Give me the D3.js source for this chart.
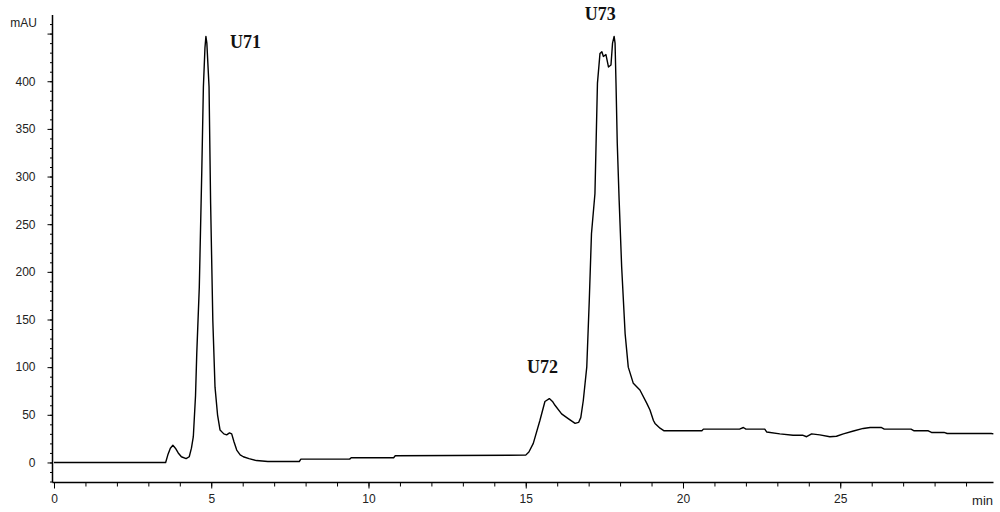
<!DOCTYPE html>
<html>
<head>
<meta charset="utf-8">
<script src="https://cdn.jsdelivr.net/npm/d3@7"></script>
<style>
html,body{margin:0;padding:0;background:#fff;}
svg{display:block;}
</style>
</head>
<body>
<svg id="chart" width="1000" height="512"></svg>
<script>
// Retention time (min) and absorbance (mAU)
const times = [0,3.55,3.62,3.7,3.78,3.86,3.95,4.05,4.2,4.3,4.37,4.43,4.5,4.54,4.62,4.70,4.75,4.80,4.83,4.86,4.93,4.98,5.05,5.12,5.2,5.28,5.4,5.49,5.58,5.65,5.72,5.81,5.92,6.02,6.2,6.44,6.8,7.8,7.85,9.4,9.45,10.8,10.85,15.0,15.1,15.24,15.45,15.61,15.75,15.85,15.93,16.14,16.35,16.57,16.68,16.75,16.83,16.94,17.02,17.09,17.20,17.28,17.36,17.42,17.47,17.55,17.63,17.71,17.76,17.81,17.84,17.87,17.91,17.97,18.05,18.16,18.26,18.42,18.63,18.85,18.95,19.06,19.11,19.27,19.4,20.6,20.65,21.8,21.92,22.0,22.6,22.66,23.08,23.5,23.8,23.93,24.09,24.35,24.67,24.88,25.1,25.42,25.73,25.95,26.3,26.4,27.25,27.35,27.8,27.9,28.3,28.4,29.8,29.87];
const mAU   = [0,0,8,15,18,15,10,6,4,6,15,27,70,115,184,307,394,435,447,440,394,272,149,79,50,34,30,29,31,30,22,13,8,6,4,2,1,1,3.5,3.5,5,5,7,7.7,11,20,44,64,67,64,60,51,46,41,42,47,65,100,170,240,282,398,429,431,426,428,415,417,440,447,440,398,335,275,205,135,100,83,76,62,55,44,41,36,33.2,33.2,35,35,36.7,35,35,32,30,28.6,28.6,27,30,29,27,27.5,30,33,35.7,36.7,36.7,35,35,33.2,33.2,31.5,31.5,30.4,30.4,30];

const yTickValues = [0,50,100,150,200,250,300,350,400,450];
const yTickLabels = ["0","50","100","150","200","250","300","350","400",""];
const xTickValues = [0,5,10,15,20,25];
const xTickLabels = ["0","5","10","15","20","25"];

const peakNames = ["U71","U72","U73"];
const peakT     = [5.6,15.04,16.88];
const peakV     = [435,94,464.6];

const svg = d3.select("#chart");
const x = d3.scaleLinear().domain([0, 29.87]).range([54, 993.4]);
const y = d3.scaleLinear().domain([-20.5, 469.5]).range([482, 15]);

const axisX = 52.5, axisY = 482.5;

// Y axis
const gy = svg.append("g").attr("transform", `translate(${axisX},0)`);
gy.call(d3.axisLeft(y).tickValues(d3.range(-20, 470, 10)).tickSize(2.5).tickFormat(""))
  .call(g => g.select(".domain").remove());
gy.append("g").call(d3.axisLeft(y).tickValues(yTickValues).tickSize(5).tickPadding(12)
    .tickFormat((d,i) => yTickLabels[i]))
  .call(g => g.select(".domain").remove())
  .call(g => g.selectAll("text").attr("font-family","Liberation Sans, Arial, sans-serif").attr("font-size",12).attr("fill","#222"));
gy.append("line").attr("x1",0).attr("x2",0).attr("y1",15).attr("y2",axisY).attr("stroke","#000").attr("stroke-width",1.5);
gy.selectAll("line").attr("stroke","#000");
svg.append("text").attr("x",37).attr("y",27).attr("text-anchor","end")
  .attr("font-family","Liberation Sans, Arial, sans-serif").attr("font-size",12).attr("fill","#222").text("mAU");

// X axis
const gx = svg.append("g").attr("transform", `translate(0,${axisY})`);
gx.call(d3.axisBottom(x).tickValues(d3.range(0, 30, 1)).tickSize(4).tickFormat(""))
  .call(g => g.select(".domain").remove());
gx.append("g").call(d3.axisBottom(x).tickValues(xTickValues).tickSize(6).tickPadding(6)
    .tickFormat((d,i) => xTickLabels[i]))
  .call(g => g.select(".domain").remove())
  .call(g => g.selectAll("text").attr("font-family","Liberation Sans, Arial, sans-serif").attr("font-size",12).attr("fill","#222"));
gx.append("line").attr("x1",axisX).attr("x2",993.5).attr("y1",0).attr("y2",0).attr("stroke","#000").attr("stroke-width",1.5);
gx.selectAll("line").attr("stroke","#000");
svg.append("text").attr("x",993).attr("y",505).attr("text-anchor","end")
  .attr("font-family","Liberation Sans, Arial, sans-serif").attr("font-size",13).attr("fill","#222").text("min");

// Chromatogram trace
const pts = times.map((t,i) => [t, mAU[i]]);
svg.append("path").datum(pts)
  .attr("d", d3.line().x(d => x(d[0])).y(d => y(d[1])).curve(d3.curveLinear))
  .attr("fill","none").attr("stroke","#000").attr("stroke-width",1.4).attr("stroke-linejoin","round");

// Peak labels
svg.selectAll("text.peak").data(peakNames).join("text").attr("class","peak")
  .attr("x",(d,i) => x(peakT[i])).attr("y",(d,i) => y(peakV[i]))
  .attr("font-family","Liberation Serif, Times New Roman, serif").attr("font-weight","bold")
  .attr("font-size",18).attr("fill","#111").text(d => d);
</script>
</body>
</html>
